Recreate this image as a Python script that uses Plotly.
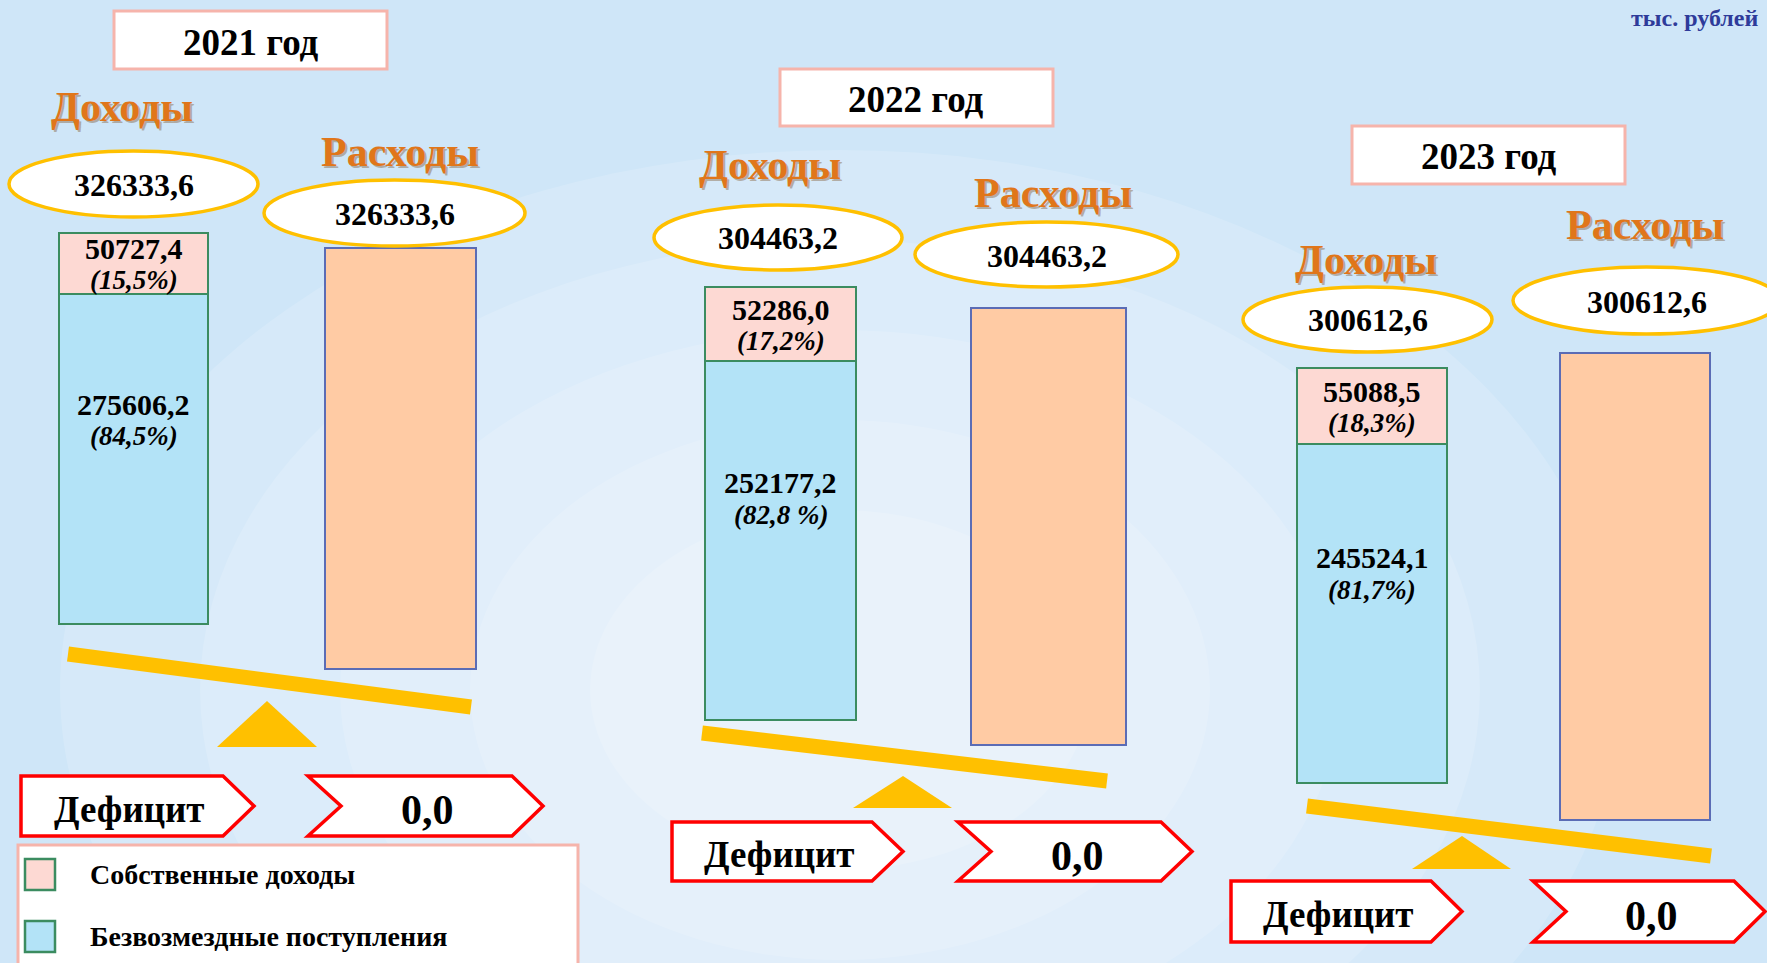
import plotly.graph_objects as go

# data (тыс. рублей)
years = ['2021 год', '2022 год', '2023 год']
own_income = [50727.4, 52286.0, 55088.5]          # Собственные доходы
grants = [275606.2, 252177.2, 245524.1]           # Безвозмездные поступления
income_total = [326333.6, 304463.2, 300612.6]
expenses = [326333.6, 304463.2, 300612.6]
own_pct = ['15,5%', '17,2%', '18,3%']
grant_pct = ['84,5%', '82,8 %', '81,7%']
deficit = [0.0, 0.0, 0.0]

W, H = 1767, 963
FONT = 'Liberation Serif'


def px(x):
    return x / W


def py(y):
    return 1 - y / H


def fmt(v):
    return f'{v:.1f}'.replace('.', ',')


# layout of the three panels, in page pixels
panels = [
    dict(year_box=(114, 11, 387, 69), inc_lbl=(122, 107), inc_ell=(9, 151, 258, 217),
         exp_lbl=(400, 152), exp_ell=(264, 180, 525, 246),
         inc_bar=(59, 233, 208, 624), exp_bar=(325, 248, 476, 669),
         beam=(68, 654, 471, 707), tri=(267, 701, 217, 747, 317, 747),
         def_box=(21, 776, 254, 836), val_box=(308, 776, 543, 836)),
    dict(year_box=(780, 69, 1053, 126), inc_lbl=(770, 165), inc_ell=(654, 205, 902, 270),
         exp_lbl=(1053, 193), exp_ell=(915, 222, 1178, 287),
         inc_bar=(705, 287, 856, 720), exp_bar=(971, 308, 1126, 745),
         beam=(702, 733, 1107, 781), tri=(903, 776, 853, 808, 952, 808),
         def_box=(672, 822, 903, 881), val_box=(958, 822, 1192, 881)),
    dict(year_box=(1352, 126, 1625, 184), inc_lbl=(1366, 260), inc_ell=(1243, 287, 1492, 352),
         exp_lbl=(1645, 225), exp_ell=(1513, 267, 1780, 334),
         inc_bar=(1297, 368, 1447, 783), exp_bar=(1560, 353, 1710, 820),
         beam=(1307, 806, 1711, 856), tri=(1462, 836, 1412, 869, 1511, 869),
         def_box=(1231, 881, 1462, 942), val_box=(1533, 881, 1765, 942)),
]

fig = go.Figure()
shapes = []
annotations = []
layout_axes = {}

# soft lighter area in the background
for rx, ry in [(780, 540), (640, 450), (500, 360), (370, 270), (250, 180)]:
    cx, cy = 840, 690
    shapes.append(dict(type='circle', xref='paper', yref='paper',
                       x0=px(cx - rx), x1=px(cx + rx), y0=py(cy + ry), y1=py(cy - ry),
                       fillcolor='rgba(255,255,255,0.15)', line_width=0, layer='below'))


def setup_axes(n, box, total):
    x0, y0, x1, y1 = box
    pad = 3
    wpx, hpx = x1 - x0, y1 - y0
    s = '' if n == 1 else str(n)
    layout_axes['xaxis' + s] = dict(domain=[px(x0 - pad), px(x1 + pad)],
                                    range=[-0.5 - pad / wpx, 0.5 + pad / wpx],
                                    visible=False, fixedrange=True, anchor='y' + s)
    layout_axes['yaxis' + s] = dict(domain=[py(y1 + pad), py(y0 - pad)],
                                    range=[-pad * total / hpx, total + pad * total / hpx],
                                    visible=False, fixedrange=True, anchor='x' + s)
    return 'x' + s, 'y' + s


def text(x, y, t, size, color='black', xanchor='center', **kw):
    annotations.append(dict(xref='paper', yref='paper', x=px(x), y=py(y), text=t,
                            xanchor=xanchor, yanchor='middle', showarrow=False,
                            font=dict(family=FONT, size=size, color=color), **kw))


def bar_label(xr, yr, yval, value, pct):
    # value and share on two lines, kept close together
    annotations.append(dict(xref=xr, yref=yr, x=0, y=yval, yshift=15, xanchor='center', yanchor='middle',
                            text=f'<b>{fmt(value)}</b>', showarrow=False,
                            font=dict(family=FONT, size=30, color='black')))
    annotations.append(dict(xref=xr, yref=yr, x=0, y=yval, yshift=-17, xanchor='center', yanchor='middle',
                            text=f'<b><i>({pct})</i></b>', showarrow=False,
                            font=dict(family=FONT, size=27, color='black')))


for i, p in enumerate(panels):
    # bars
    xi, yi = setup_axes(2 * i + 1, p['inc_bar'], income_total[i])
    xe, ye = setup_axes(2 * i + 2, p['exp_bar'], expenses[i])
    fig.add_trace(go.Bar(x=[0], y=[grants[i]], width=[1], xaxis=xi, yaxis=yi,
                         marker=dict(color='#b3e3f7', line=dict(color='#3b8c60', width=2.5)),
                         showlegend=False, hoverinfo='skip'))
    fig.add_trace(go.Bar(x=[0], y=[own_income[i]], width=[1], xaxis=xi, yaxis=yi,
                         marker=dict(color='#fdd9d3', line=dict(color='#3b8c60', width=2.5)),
                         showlegend=False, hoverinfo='skip'))
    fig.add_trace(go.Bar(x=[0], y=[expenses[i]], width=[1], xaxis=xe, yaxis=ye,
                         marker=dict(color='#ffcba4', line=dict(color='#5b6cb5', width=2.5)),
                         showlegend=False, hoverinfo='skip'))
    bar_label(xi, yi, grants[i] + own_income[i] / 2, own_income[i], own_pct[i])
    bar_label(xi, yi, grants[i] * 0.62, grants[i], grant_pct[i])

    # year box
    x0, y0, x1, y1 = p['year_box']
    shapes.append(dict(type='rect', xref='paper', yref='paper', x0=px(x0), x1=px(x1), y0=py(y1), y1=py(y0),
                       fillcolor='white', line=dict(color='#f6b4ab', width=3)))
    text((x0 + x1) / 2, (y0 + y1) / 2 + 2, f'<b>{years[i]}</b>', 37)

    # Доходы / Расходы titles
    for (lx, ly), lbl in [(p['inc_lbl'], 'Доходы'), (p['exp_lbl'], 'Расходы')]:
        text(lx, ly, f'<b>{lbl}</b>', 42, 'rgba(110,60,10,0.35)', xshift=2, yshift=-2)
        text(lx, ly, f'<b>{lbl}</b>', 42, '#e0761a')

    # ellipses with totals
    for box, val in [(p['inc_ell'], income_total[i]), (p['exp_ell'], expenses[i])]:
        x0, y0, x1, y1 = box
        shapes.append(dict(type='circle', xref='paper', yref='paper', x0=px(x0), x1=px(x1),
                           y0=py(y1), y1=py(y0), fillcolor='white', line=dict(color='#ffc000', width=3.5)))
        text((x0 + x1) / 2, (y0 + y1) / 2 + 1, f'<b>{fmt(val)}</b>', 32)

    # seesaw
    bx0, by0, bx1, by1 = p['beam']
    shapes.append(dict(type='line', xref='paper', yref='paper', x0=px(bx0), y0=py(by0),
                       x1=px(bx1), y1=py(by1), line=dict(color='#ffc000', width=15)))
    ax, ay, bx, by, cx, cy = p['tri']
    shapes.append(dict(type='path', xref='paper', yref='paper',
                       path=f'M {px(ax)},{py(ay)} L {px(bx)},{py(by)} L {px(cx)},{py(cy)} Z',
                       fillcolor='#ffc000', line_width=0))

    # deficit arrows
    x0, y0, x1, y1 = p['def_box']
    tip = 31
    ym = (y0 + y1) / 2
    shapes.append(dict(type='path', xref='paper', yref='paper',
                       path=(f'M {px(x0)},{py(y0)} L {px(x1 - tip)},{py(y0)} L {px(x1)},{py(ym)} '
                             f'L {px(x1 - tip)},{py(y1)} L {px(x0)},{py(y1)} Z'),
                       fillcolor='white', line=dict(color='#ff0000', width=3.5)))
    text((x0 + x1) / 2 - 8, ym + 3, '<b>Дефицит</b>', 37)
    x0, y0, x1, y1 = p['val_box']
    shapes.append(dict(type='path', xref='paper', yref='paper',
                       path=(f'M {px(x0)},{py(y0)} L {px(x1 - tip)},{py(y0)} L {px(x1)},{py(ym)} '
                             f'L {px(x1 - tip)},{py(y1)} L {px(x0)},{py(y1)} L {px(x0 + 33)},{py(ym)} Z'),
                       fillcolor='white', line=dict(color='#ff0000', width=3.5)))
    text((x0 + x1) / 2 + 2, ym + 4, f'<b>{fmt(deficit[i])}</b>', 42)

# legend box
shapes.append(dict(type='rect', xref='paper', yref='paper', x0=px(18), x1=px(578), y0=py(980), y1=py(845),
                   fillcolor='white', line=dict(color='#f6b4ab', width=3)))
for (y0, y1), col, lbl in [((859, 890), '#fdd9d3', 'Собственные доходы'),
                           ((921, 952), '#b3e3f7', 'Безвозмездные поступления')]:
    shapes.append(dict(type='rect', xref='paper', yref='paper', x0=px(25), x1=px(55), y0=py(y1), y1=py(y0),
                       fillcolor=col, line=dict(color='#3b8c60', width=2.5)))
    text(88, (y0 + y1) / 2, f'<b>{lbl}</b>', 28, xanchor='left')

# units in the top right corner
text(1760, 18, '<b>тыс. рублей</b>', 24, '#2e3b9a', xanchor='right')

fig.update_layout(
    width=W, height=H,
    margin=dict(l=0, r=0, t=0, b=0),
    paper_bgcolor='#cfe6f8',
    plot_bgcolor='rgba(0,0,0,0)',
    barmode='stack',
    bargap=0,
    showlegend=False,
    shapes=shapes,
    annotations=annotations,
    **layout_axes,
)

fig.write_html('out.html', config={'displayModeBar': False},
               post_script="document.body.style.margin='0';document.body.style.overflow='hidden';")
